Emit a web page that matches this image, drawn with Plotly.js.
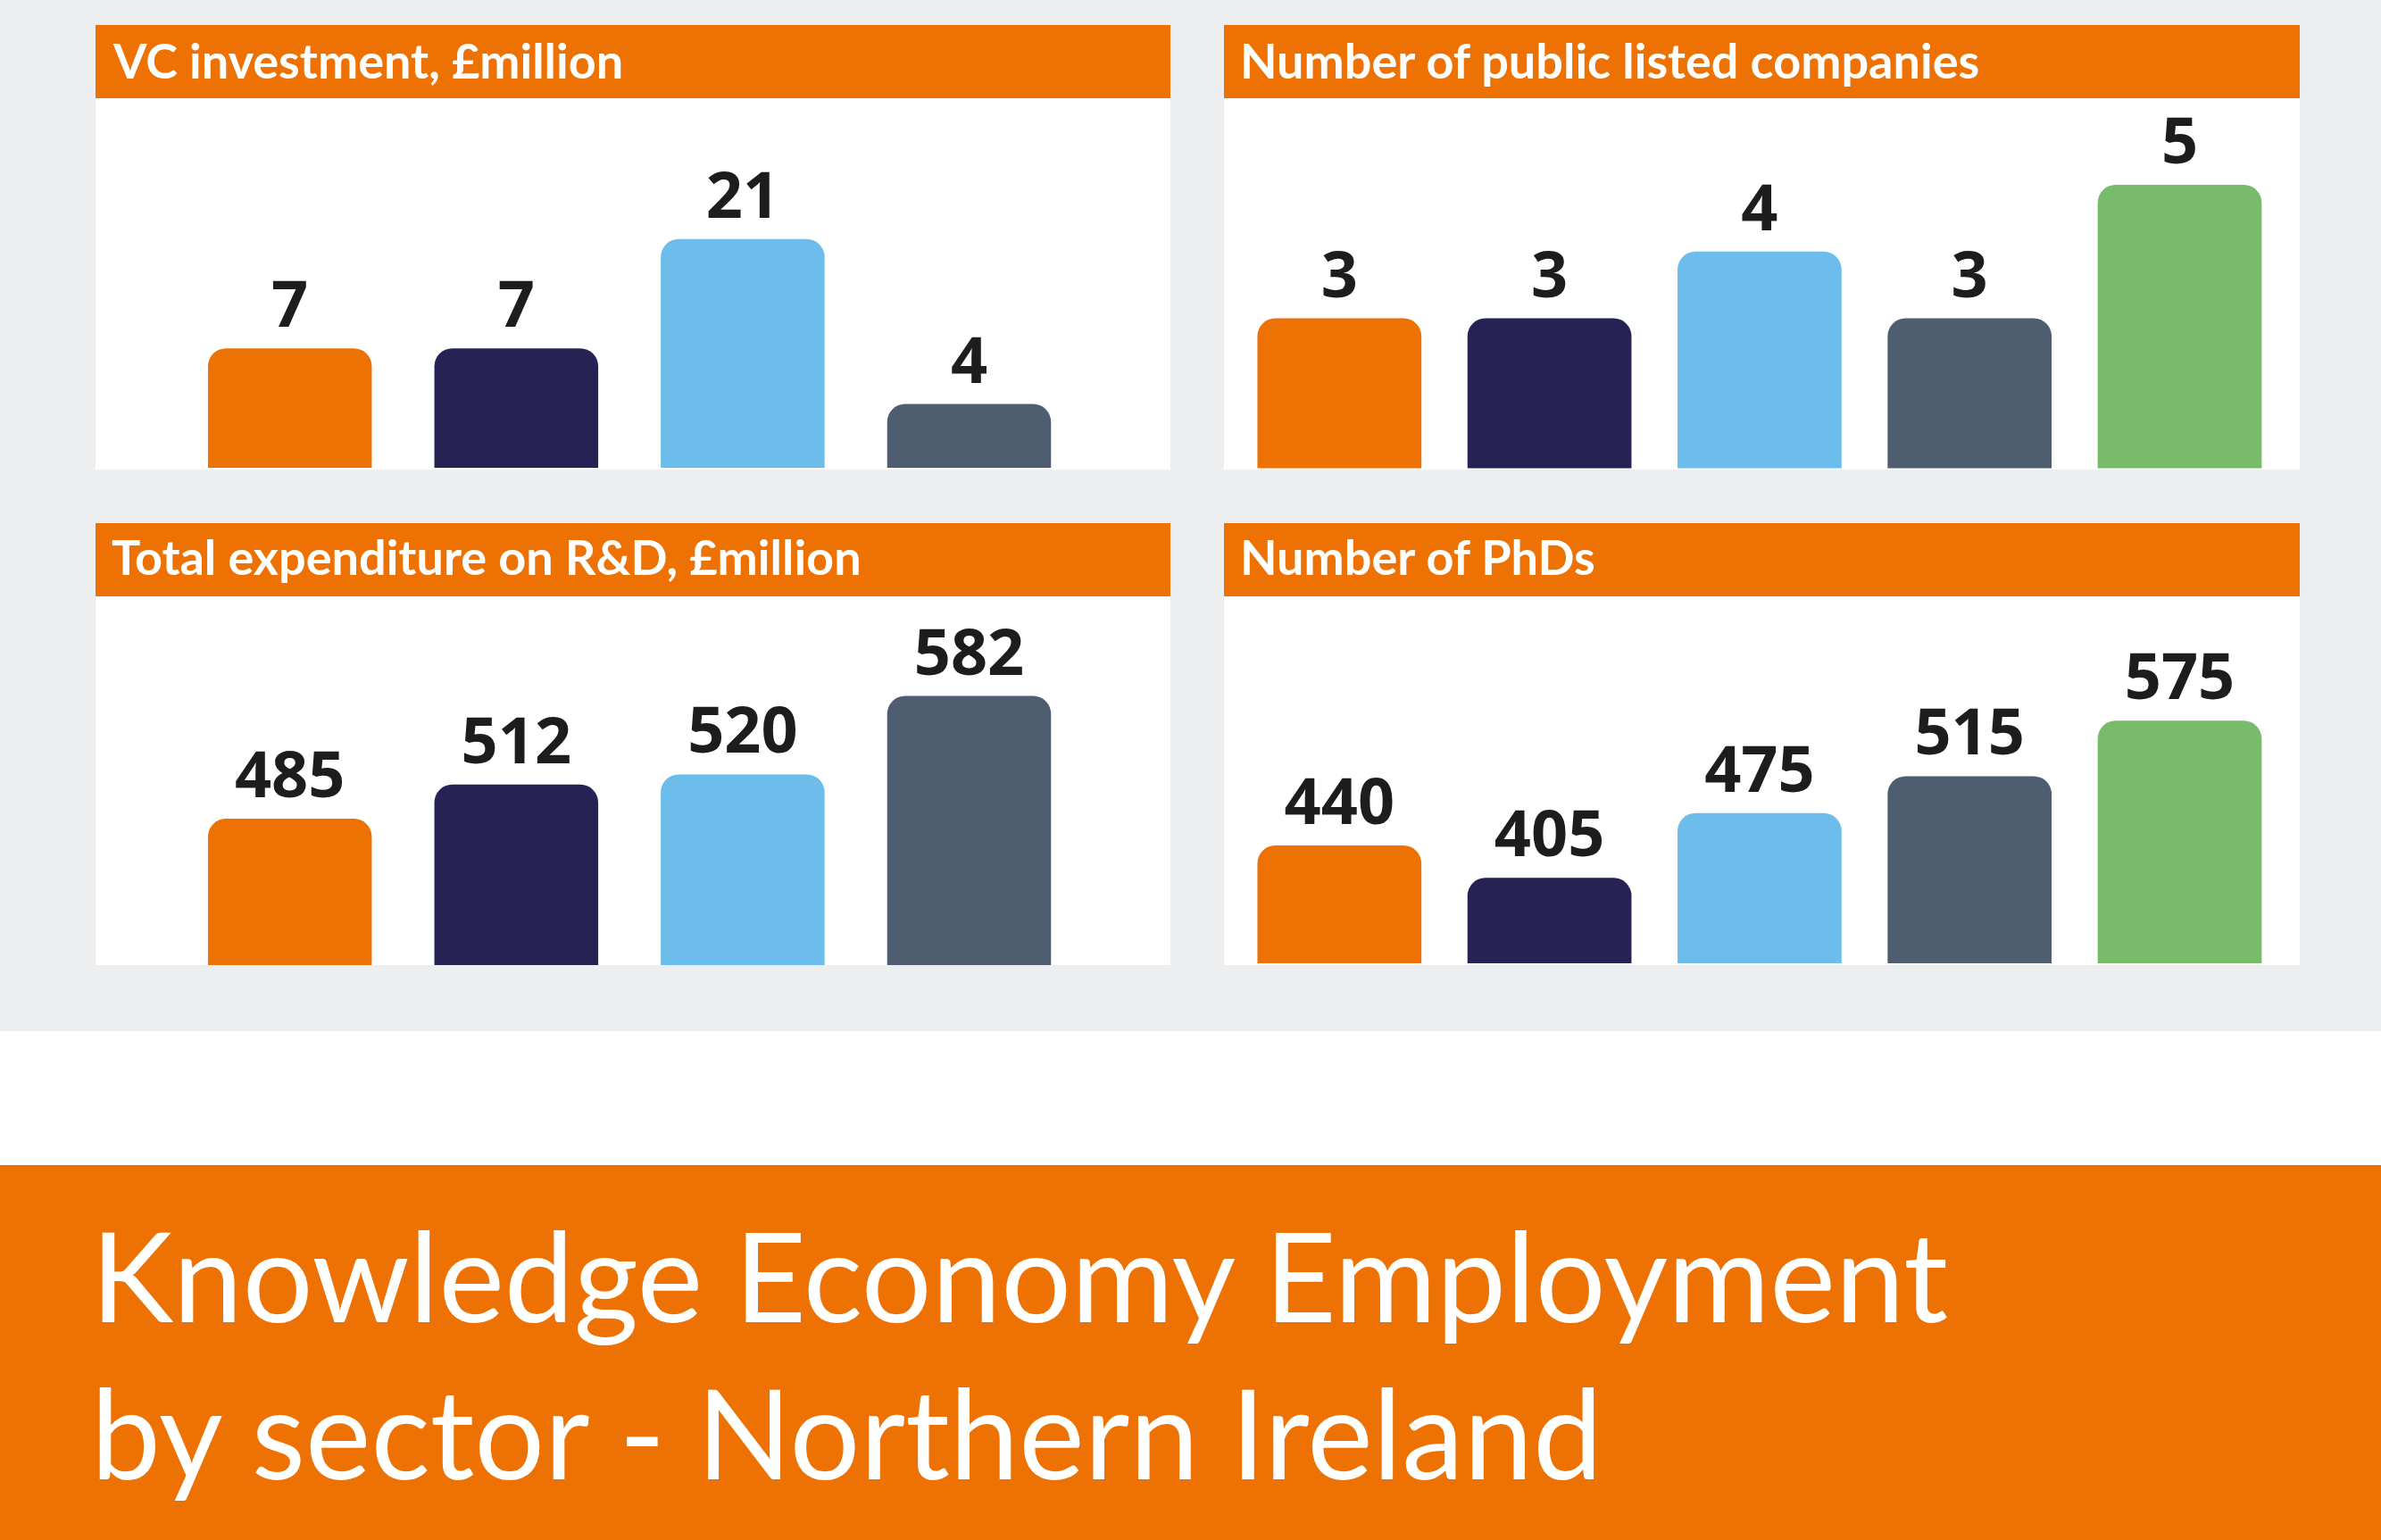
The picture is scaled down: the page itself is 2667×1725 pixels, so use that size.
<!DOCTYPE html>
<html>
<head>
<meta charset="utf-8">
<script src="https://cdn.plot.ly/plotly-3.0.1.min.js"></script>
<style>
  html, body { margin: 0; padding: 0; background: #ffffff; }
  #chart { width: 2667px; height: 1725px; }
</style>
</head>
<body>
<div id="chart"></div>
<script>
// ---------------- data ----------------
const sectors4 = ['Sector 1', 'Sector 2', 'Sector 3', 'Sector 4'];
const sectors5 = ['Sector 1', 'Sector 2', 'Sector 3', 'Sector 4', 'Sector 5'];

const vcInvestment = [7, 7, 21, 4];                 // £million
const publicListedCompanies = [3, 3, 4, 3, 5];
const rdExpenditure = [485, 512, 520, 582];         // £million
const phdCount = [440, 405, 475, 515, 575];

const panelTitles = [
  'VC investment, £million',
  'Number of public listed companies',
  'Total expenditure on R&D, £million',
  'Number of PhDs'
];
const mainTitleLines = ['Knowledge Economy Employment', 'by sector - Northern Ireland'];

// ---------------- styles ----------------
const W = 2667, H = 1725;
const ORANGE = '#ED7203';
const sectorColors = ['#ED7203', '#262254', '#6CBDEB', '#4E5D70', '#78BB6B'];
const GREY = '#EDEEF0';
const LABEL_COLOR = '#1D1D1B';
const FONT = '"Open Sans", "Noto Sans", sans-serif';
const HEAD_FONT = 'Lato, "Open Sans", sans-serif';

const px = x => x / W;
const py = y => 1 - y / H;

function barTrace(cats, vals, xa, ya, width) {
  return {
    type: 'bar',
    x: cats,
    y: vals,
    xaxis: xa,
    yaxis: ya,
    width: width,
    text: vals.map(String),
    textposition: 'outside',
    textfont: { family: FONT, size: 72, color: LABEL_COLOR, weight: 700 },
    marker: { color: sectorColors.slice(0, cats.length), cornerradius: 20, line: { width: 0 } },
    hoverinfo: 'skip'
  };
}

const data = [
  barTrace(sectors4, vcInvestment, 'x', 'y', 0.7236),
  barTrace(sectors5, publicListedCompanies, 'x2', 'y2', 0.7807),
  barTrace(sectors4, rdExpenditure, 'x3', 'y3', 0.7236),
  barTrace(sectors5, phdCount, 'x4', 'y4', 0.7807)
];

// panel geometry (pixels)
const leftCol = [107, 1311], rightCol = [1371, 2576];
const topRow = { head: 28, body: 110, bottom: 526 };
const botRow = { head: 586, body: 668, bottom: 1081 };

function rect(x0, x1, y0, y1, color) {
  return { type: 'rect', xref: 'paper', yref: 'paper', layer: 'below',
           x0: px(x0), x1: px(x1), y0: py(y1), y1: py(y0),
           fillcolor: color, line: { width: 0 } };
}

const shapes = [
  rect(0, W, 0, 1155, GREY),
  rect(0, W, 1305, H, ORANGE)
];
[[leftCol, topRow], [rightCol, topRow], [leftCol, botRow], [rightCol, botRow]].forEach(([c, r]) => {
  shapes.push(rect(c[0], c[1], r.body, r.bottom, '#FFFFFF'));
  shapes.push(rect(c[0], c[1], r.head, r.body, ORANGE));
});

const headerFont = { family: HEAD_FONT, size: 54, color: '#FFFFFF', weight: 700 };
function header(text, xpx, ypx) {
  return { text: text, xref: 'paper', yref: 'paper', x: px(xpx), y: py(ypx),
           xanchor: 'left', yanchor: 'middle', showarrow: false, font: headerFont };
}
const titleFont = { family: HEAD_FONT, size: 139, color: '#FFFFFF', weight: 400 };
function titleLine(text, ypx) {
  return { text: text, xref: 'paper', yref: 'paper', x: px(100), y: py(ypx),
           xanchor: 'left', yanchor: 'middle', showarrow: false, font: titleFont };
}

const annotations = [
  header(panelTitles[0], 124, 67),
  header(panelTitles[1], 1387, 67),
  header(panelTitles[2], 123, 624),
  header(panelTitles[3], 1387, 624),
  titleLine(mainTitleLines[0], 1427),
  titleLine(mainTitleLines[1], 1603)
];

const hidden = { visible: false, showgrid: false, zeroline: false, fixedrange: true };
const layout = {
  width: W, height: H,
  margin: { l: 0, r: 0, t: 0, b: 0, pad: 0 },
  paper_bgcolor: '#FFFFFF',
  plot_bgcolor: 'rgba(0,0,0,0)',
  showlegend: false,
  hovermode: false,
  xaxis:  Object.assign({}, hidden, { type: 'category', domain: [px(197.9), px(1212.3)], anchor: 'y' }),
  yaxis:  Object.assign({}, hidden, { type: 'log', domain: [py(524), py(110)], range: [0.3238, 1.9372], anchor: 'x' }),
  xaxis2: Object.assign({}, hidden, { type: 'category', domain: [px(1382.65), px(2559.15)], anchor: 'y2' }),
  yaxis2: Object.assign({}, hidden, { type: 'linear', domain: [py(524.6), py(110)], range: [0.7525, 6.299], anchor: 'x2' }),
  xaxis3: Object.assign({}, hidden, { type: 'category', domain: [px(197.9), px(1212.3)], anchor: 'y3' }),
  yaxis3: Object.assign({}, hidden, { type: 'linear', domain: [py(1081), py(668)], range: [369.4, 660.7], anchor: 'x3' }),
  xaxis4: Object.assign({}, hidden, { type: 'category', domain: [px(1382.65), px(2559.15)], anchor: 'y4' }),
  yaxis4: Object.assign({}, hidden, { type: 'linear', domain: [py(1079), py(668)], range: [312.6, 709.5], anchor: 'x4' }),
  shapes: shapes,
  annotations: annotations
};

Plotly.newPlot('chart', data, layout, { staticPlot: true, displayModeBar: false });
</script>
</body>
</html>
